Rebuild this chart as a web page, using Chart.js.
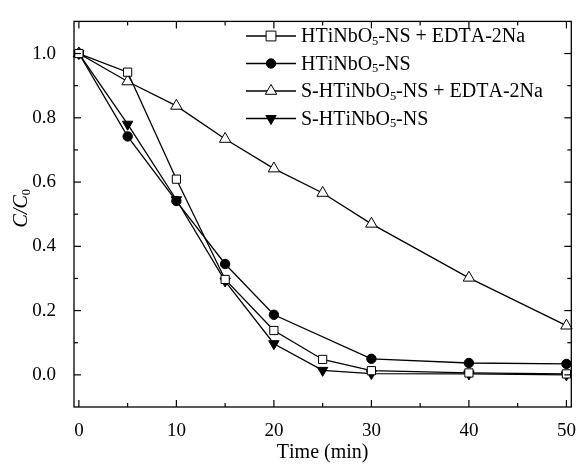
<!DOCTYPE html>
<html>
<head>
<meta charset="utf-8">
<script src="https://cdn.jsdelivr.net/npm/chart.js@4/dist/chart.umd.min.js"></script>
<style>
  html, body { margin: 0; padding: 0; background: #fff; }
</style>
</head>
<body>
<canvas id="chart" width="581" height="464"></canvas>
<script>
const timeMin = [0, 5, 10, 15, 20, 25, 30, 40, 50];
const timeNoCircle = [0, 5, 10, 15, 20, 30, 40, 50];

const htinboEdta = [1.0, 0.942, 0.609, 0.297, 0.138, 0.048, 0.013, 0.006, 0.003];
const htinbo = [1.0, 0.742, 0.541, 0.345, 0.187, 0.05, 0.037, 0.034];
const sHtinboEdta = [1.0, 0.913, 0.837, 0.734, 0.642, 0.566, 0.47, 0.302, 0.153];
const sHtinbo = [1.0, 0.78, 0.545, 0.292, 0.097, 0.014, 0.004, 0.003, 0.0];

const seriesNames = [
  "HTiNbO₅-NS + EDTA-2Na",
  "HTiNbO₅-NS",
  "S-HTiNbO₅-NS + EDTA-2Na",
  "S-HTiNbO₅-NS",
];

const xTickValues = [0, 10, 20, 30, 40, 50];
const yTickValues = [0.0, 0.2, 0.4, 0.6, 0.8, 1.0];

const FONT = "'Liberation Serif', 'Times New Roman', serif";

function toPoints(xs, ys) {
  return xs.map((x, i) => ({ x: x, y: ys[i] }));
}

function minorTicks(major, min, max) {
  const step = major[1] - major[0];
  const out = [];
  major.forEach((v) => {
    [v - step / 2, v + step / 2].forEach((m) => {
      if (m > min + 1e-9 && m < max - 1e-9 && !out.some((o) => Math.abs(o - m) < 1e-9)) out.push(m);
    });
  });
  return out;
}

function drawRich(ctx, text, x, y, size, italic) {
  // draws text, turning unicode subscript digits into small lowered digits
  const subs = "₀₁₂₃₄₅₆₇₈₉";
  let cx = x;
  for (const ch of text) {
    const k = subs.indexOf(ch);
    if (k >= 0) {
      ctx.font = (size * 0.62).toFixed(1) + "px " + FONT;
      ctx.fillText(String(k), cx, y + size * 0.22);
      cx += ctx.measureText(String(k)).width;
    } else {
      ctx.font = (italic ? "italic " : "") + size + "px " + FONT;
      ctx.fillText(ch, cx, y);
      cx += ctx.measureText(ch).width;
    }
  }
  return cx - x;
}

function measureRich(ctx, text, size, italic) {
  const subs = "₀₁₂₃₄₅₆₇₈₉";
  let w = 0;
  for (const ch of text) {
    const k = subs.indexOf(ch);
    if (k >= 0) {
      ctx.font = (size * 0.62).toFixed(1) + "px " + FONT;
      w += ctx.measureText(String(k)).width;
    } else {
      ctx.font = (italic ? "italic " : "") + size + "px " + FONT;
      w += ctx.measureText(ch).width;
    }
  }
  return w;
}

const markerStyles = [
  { pointStyle: "rect", radius: 5.8, rotation: 0, fill: "#fff" },
  { pointStyle: "circle", radius: 4.7, rotation: 0, fill: "#000" },
  { pointStyle: "triangle", radius: 6.6, rotation: 0, fill: "#fff" },
  { pointStyle: "triangle", radius: 6.0, rotation: 180, fill: "#000" },
];

const seriesData = [
  toPoints(timeMin, htinboEdta),
  toPoints(timeNoCircle, htinbo),
  toPoints(timeMin, sHtinboEdta),
  toPoints(timeMin, sHtinbo),
];

const datasets = seriesNames.map((name, i) => ({
  label: name,
  data: seriesData[i],
  borderColor: "#000",
  borderWidth: 1.3,
  backgroundColor: markerStyles[i].fill,
  pointStyle: markerStyles[i].pointStyle,
  pointRadius: markerStyles[i].radius,
  pointRotation: markerStyles[i].rotation,
  pointBackgroundColor: markerStyles[i].fill,
  pointBorderColor: "#000",
  pointBorderWidth: 1,
  tension: 0,
  clip: false,
}));

const framePlugin = {
  id: "frame",
  afterDraw(chart) {
    const ctx = chart.ctx;
    const a = chart.chartArea;
    const xs = chart.scales.x;
    const ys = chart.scales.y;
    ctx.save();
    ctx.strokeStyle = "#000";
    ctx.lineWidth = 1.3;
    ctx.strokeRect(a.left, a.top, a.right - a.left, a.bottom - a.top);

    ctx.lineWidth = 1.2;
    const tick = (x1, y1, x2, y2) => {
      ctx.beginPath();
      ctx.moveTo(x1, y1);
      ctx.lineTo(x2, y2);
      ctx.stroke();
    };
    const xMinor = minorTicks(xTickValues, xs.min, xs.max);
    const yMinor = minorTicks(yTickValues, ys.min, ys.max);
    xTickValues.forEach((v) => {
      const p = xs.getPixelForValue(v);
      tick(p, a.bottom, p, a.bottom - 7);
      tick(p, a.top, p, a.top + 7);
    });
    xMinor.forEach((v) => {
      const p = xs.getPixelForValue(v);
      tick(p, a.bottom, p, a.bottom - 4);
      tick(p, a.top, p, a.top + 4);
    });
    yTickValues.forEach((v) => {
      const p = ys.getPixelForValue(v);
      tick(a.left, p, a.left + 7, p);
      tick(a.right, p, a.right - 7, p);
    });
    yMinor.forEach((v) => {
      const p = ys.getPixelForValue(v);
      tick(a.left, p, a.left + 4, p);
      tick(a.right, p, a.right - 4, p);
    });

    // axis titles
    ctx.fillStyle = "#000";
    ctx.textBaseline = "middle";
    ctx.textAlign = "left";
    const xt = "Time (min)";
    const xw = measureRich(ctx, xt, 20, false);
    drawRich(ctx, xt, (a.left + a.right) / 2 - xw / 2, 453, 20, false);

    ctx.save();
    ctx.translate(22, (a.top + a.bottom) / 2 - 6);
    ctx.rotate(-Math.PI / 2);
    const yt = "C/C₀";
    const yw = measureRich(ctx, yt, 20, true);
    drawRich(ctx, yt, -yw / 2, 0, 20, true);
    ctx.restore();

    // legend
    const rowY = [36, 63.5, 91, 118.5];
    seriesNames.forEach((name, i) => {
      const y = rowY[i];
      ctx.lineWidth = 1.3;
      tick(246, y, 296, y);
      const m = markerStyles[i];
      ctx.fillStyle = m.fill;
      ctx.strokeStyle = "#000";
      ctx.lineWidth = 1;
      Chart.helpers.drawPoint(ctx, {
        pointStyle: m.pointStyle,
        radius: m.pointStyle === "rect" ? m.radius * 1.2 : m.radius,
        rotation: m.rotation,
        borderWidth: 1,
      }, 271, y);
      ctx.fillStyle = "#000";
      ctx.textBaseline = "middle";
      drawRich(ctx, name, 301, y + 1, 20, false);
    });
    ctx.restore();
  },
};

new Chart(document.getElementById("chart"), {
  type: "line",
  data: { datasets: datasets },
  options: {
    responsive: false,
    animation: false,
    layout: { padding: { top: 14, right: 5, left: 0, bottom: 0 } },
    plugins: {
      legend: { display: false },
      tooltip: { enabled: false },
    },
    scales: {
      x: {
        type: "linear",
        min: -0.5,
        max: 50.5,
        grid: { display: false },
        border: { display: false },
        afterBuildTicks: (s) => {
          s.ticks = xTickValues.map((v) => ({ value: v }));
        },
        afterFit: (s) => {
          s.height = 57;
        },
        ticks: {
          autoSkip: false,
          maxRotation: 0,
          padding: 5,
          color: "#000",
          font: { family: FONT, size: 19 },
          callback: (v) => String(v),
        },
      },
      y: {
        type: "linear",
        min: -0.1,
        max: 1.1,
        grid: { display: false },
        border: { display: false },
        afterBuildTicks: (s) => {
          s.ticks = yTickValues.map((v) => ({ value: v }));
        },
        afterFit: (s) => {
          s.width = 74;
        },
        ticks: {
          autoSkip: false,
          padding: 10,
          color: "#000",
          font: { family: FONT, size: 19 },
          callback: (v) => v.toFixed(1),
        },
      },
    },
  },
  plugins: [framePlugin],
});
</script>
</body>
</html>
